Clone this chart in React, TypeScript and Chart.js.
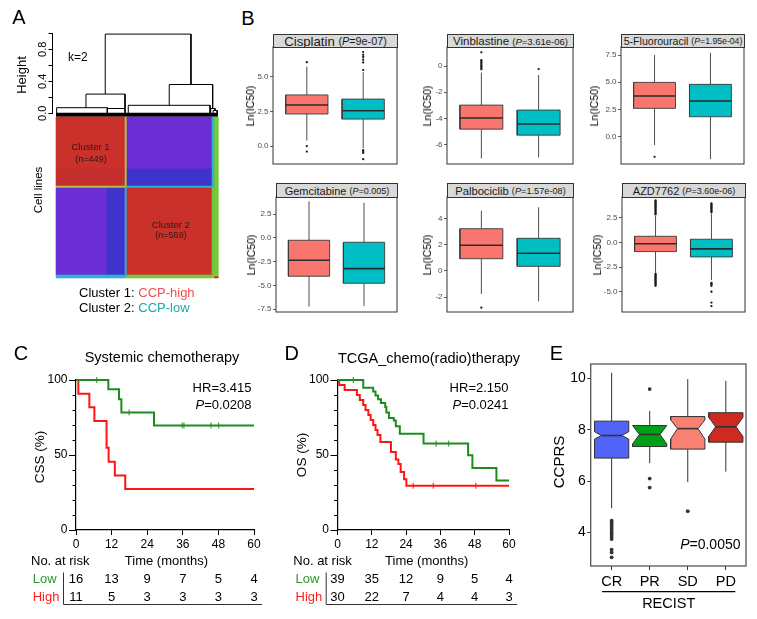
import React, { useEffect, useRef } from "react";
import { Chart, registerables } from "chart.js";

Chart.register(...registerables);

const FONT = '"Liberation Sans", Arial, Helvetica, sans-serif';

/* ================= Panel A : consensus clustering ================= */
// dendrogram merges: [xLeft, xRight, height, leftLegEnd, rightLegEnd]  (x = fraction of heatmap width)
const dendroMerges = [
  [0.304, 0.833, 0.99, 0.24, 0.36],
  [0.185, 0.426, 0.24, 0.07, 0.06],
  [0.004, 0.317, 0.07, 0.0, 0.0],
  [0.317, 0.426, 0.06, 0.0, 0.0],
  [0.699, 0.967, 0.36, 0.1, 0.06],
  [0.446, 0.951, 0.1, 0.0, 0.0],
  [0.955, 0.982, 0.06, 0.0, 0.035],
  [0.97, 0.995, 0.035, 0.0, 0.0],
];
const dendroLeafBand = -0.0175;
const dendroTicks = [0, 0.2, 0.4, 0.6, 0.8, 1.0];
const dendroLabelTicks = [0, 0.4, 0.8];
const dendroLabelText = ["0.0", "0.4", "0.8"];

const heatColBreaks = [0, 0.315, 0.426, 0.438, 0.963, 0.978, 1];
const heatRowBreaks = [0, 0.323, 0.429, 0.441, 0.981, 0.991, 1];
const hR = "rgb(201,49,42)";
const hR2 = "rgb(196,46,44)";
const hP = "rgb(106,46,212)";
const hB = "rgb(62,52,204)";
const hY = "rgb(186,192,62)";
const hG = "rgb(118,200,58)";
const hC = "rgb(44,176,212)";
const heatColors = [
  [hR, hR, hY, hP, hC, hG],
  [hR2, hR2, hY, hB, hC, hG],
  [hY, hY, hG, hC, hC, hG],
  [hP, hB, hC, hR, hG, hG],
  [hC, hC, hC, hG, hG, hY],
  [hC, hC, hG, hG, hY, hR],
];

/* ================= Panel B : drug sensitivity ================= */
const groupColors = ["#F8766D", "#00BFC4"];
const drugNames = ["Cisplatin", "Vinblastine", "5-Fluorouracil", "Gemcitabine", "Palbociclib", "AZD7762"];
const drugPValues = ["9e-07", "3.61e-06", "1.95e-04", "0.005", "1.57e-08", "3.60e-06"];
// [lowerWhisker, Q1, median, Q3, upperWhisker] for CCP-high (red) and CCP-low (teal)
const cisplatinBoxes = [[0.4, 2.32, 2.97, 3.7, 5.75], [-0.15, 1.95, 2.55, 3.4, 5.35]];
const cisplatinOutliers = [[6.07, 0.0, -0.4], [5.5, 6.05, 6.25, 6.45, 6.6, 6.8, -0.3, -0.4, -0.5, -0.95]];
const vinblastineBoxes = [[-7.07, -4.83, -3.98, -2.99, -0.5], [-7.0, -5.29, -4.44, -3.37, -0.69]];
const vinblastineOutliers = [[1.05, 0.45, 0.35, 0.25, 0.15, 0.05, -0.05, -0.15, -0.25], [-0.23]];
const fluorouracilBoxes = [[-0.76, 2.61, 3.74, 4.99, 7.5], [-2.05, 1.84, 3.28, 4.81, 7.71]];
const fluorouracilOutliers = [[-1.84], []];
const gemcitabineBoxes = [[-7.23, -4.04, -2.36, -0.26, 3.83], [-7.16, -4.78, -3.24, -0.47, 3.69]];
const gemcitabineOutliers = [[], []];
const palbociclibBoxes = [[-1.75, 0.93, 1.95, 3.21, 4.58], [-2.3, 0.35, 1.34, 2.48, 4.84]];
const palbociclibOutliers = [[-2.79], []];
const azdBoxes = [[-3.08, -0.93, -0.13, 0.62, 2.72], [-3.8, -1.47, -0.66, 0.32, 2.92]];
const azdOutliers = [
  [2.85, 2.95, 3.05, 3.15, 3.25, 3.35, 3.45, 3.55, 3.65, 3.75, 3.85, 3.95, 4.05, 4.15, 4.25,
   -3.2, -3.3, -3.4, -3.5, -3.6, -3.7, -3.8, -3.9, -4.0, -4.1, -4.2, -4.3, -4.4],
  [3.05, 3.15, 3.25, 3.35, 3.45, 3.55, 3.65, 3.75, 3.85, 3.95, -4.1, -4.2, -4.3, -4.4, -5.0, -6.1, -6.45],
];
const cisplatinRange = [-1.3, 7.17];
const vinblastineRange = [-7.5, 1.46];
const fluorouracilRange = [-2.5, 8.24];
const gemcitabineRange = [-7.8, 4.29];
const palbociclibRange = [-3.12, 5.62];
const azdRange = [-7.05, 4.6];
const cisplatinTicks = [0, 2.5, 5];
const cisplatinTickLabels = ["0.0", "2.5", "5.0"];
const vinblastineTicks = [-6, -4, -2, 0];
const vinblastineTickLabels = ["-6", "-4", "-2", "0"];
const fluorouracilTicks = [0, 2.5, 5, 7.5];
const fluorouracilTickLabels = ["0.0", "2.5", "5.0", "7.5"];
const gemcitabineTicks = [-7.5, -5, -2.5, 0, 2.5];
const gemcitabineTickLabels = ["-7.5", "-5.0", "-2.5", "0.0", "2.5"];
const palbociclibTicks = [-2, 0, 2, 4];
const palbociclibTickLabels = ["-2", "0", "2", "4"];
const azdTicks = [-5, -2.5, 0, 2.5];
const azdTickLabels = ["-5.0", "-2.5", "0.0", "2.5"];

/* ================= Panels C & D : Kaplan-Meier ================= */
const kmTimeTicks = [0, 12, 24, 36, 48, 60];
const kmSurvTicks = [0, 50, 100];
const kmMinorTicks = [10, 20, 30, 40, 60, 70, 80, 90];
const cLowCurve = [[0, 100], [10.9, 93.8], [14.5, 87.1], [15.3, 78.4], [26.3, 69.7], [60, 69.7]];
const cLowCensor = [[7, 100], [17.9, 78.4], [35.8, 69.7], [36.4, 69.7], [45.5, 69.7], [48.1, 69.7]];
const cHighCurve = [[0, 100], [0.8, 90.9], [4.5, 81.8], [6.2, 72.7], [10.3, 54.9], [11.0, 45.5], [13.1, 36.4], [16.6, 27.3], [60, 27.3]];
const cHighCensor = [];
const cLowRisk = [16, 13, 9, 7, 5, 4];
const cHighRisk = [11, 5, 3, 3, 3, 3];
const dLowCurve = [[0, 100], [9.0, 94.9], [12.5, 92.3], [13.3, 89.7], [14.2, 87.2], [15.2, 84.6], [16.7, 82.0], [17.1, 78.3], [18.0, 74.6], [19.7, 73.0], [20.4, 69.2], [21.8, 64.1], [30.1, 57.6], [45.7, 49.8], [47.2, 41.3], [55.6, 33.0], [60, 33.0]];
const dLowCensor = [[5.5, 100], [34.5, 57.6], [38.9, 57.6]];
const dHighCurve = [[0, 100], [0.6, 96.7], [2.5, 93.3], [6.8, 90.0], [7.8, 86.7], [9.0, 83.3], [9.8, 80.0], [10.8, 76.7], [11.6, 73.3], [12.5, 70.0], [13.3, 66.7], [14.0, 63.3], [15.0, 58.7], [18.7, 52.0], [20.4, 47.0], [21.3, 44.0], [22.1, 38.6], [23.3, 33.8], [24.1, 29.5], [60, 29.5]];
const dHighCensor = [[26.5, 29.5], [33.5, 29.5], [48.4, 29.5]];
const dLowRisk = [39, 35, 12, 9, 5, 4];
const dHighRisk = [30, 22, 7, 4, 4, 3];
const kmLowColor = "#1E8B1E";
const kmHighColor = "#FF1414";

/* ================= Panel E : CCPRS by RECIST ================= */
const eCategories = ["CR", "PR", "SD", "PD"];
const eBoxes = [
  [4.94, 6.9, 7.78, 8.34, 10.23],
  [6.7, 7.35, 7.82, 8.17, 8.74],
  [5.96, 7.25, 8.05, 8.52, 9.98],
  [6.37, 7.52, 8.12, 8.67, 9.91],
];
const eNotches = [[7.64, 7.93], [7.45, 8.17], [7.64, 8.39], [7.74, 8.49]];
const eOutliers = [
  [4.46, 4.38, 4.3, 4.22, 4.14, 4.06, 3.98, 3.9, 3.82, 3.74, 3.33, 3.22, 3.03],
  [9.59, 6.1, 5.75],
  [4.83],
  [],
];
const eColors = ["#5064FA", "#00A014", "#FA8072", "#CD2A20"];
const eTicks = [4, 6, 8, 10];
const eRange = [2.69, 10.57];

/* ================= helpers ================= */
function poly(points, fill, stroke, width = 1, extra = {}) {
  return {
    type: "line",
    data: points.map(([x, y]) => ({ x, y })),
    borderColor: stroke || "rgba(0,0,0,0)",
    borderWidth: stroke ? width : 0,
    backgroundColor: fill || "rgba(0,0,0,0)",
    fill: fill ? "shape" : false,
    pointRadius: 0,
    pointHoverRadius: 0,
    tension: 0,
    spanGaps: false,
    clip: false,
    borderCapStyle: "butt",
    borderJoinStyle: "miter",
    ...extra,
  };
}

function dots(points, color, r, extra = {}) {
  return {
    type: "line",
    data: points.map(([x, y]) => ({ x, y })),
    showLine: false,
    pointRadius: r,
    pointHoverRadius: r,
    pointBackgroundColor: color,
    pointBorderColor: color,
    pointBorderWidth: 0,
    clip: false,
    ...extra,
  };
}

function boxLayers(x, s, fillColor, hw, o) {
  const [lo, q1, med, q3, hi] = s;
  const layers = [];
  layers.push(poly([[x, lo], [x, q1], [x, null], [x, q3], [x, hi]], null, o.line, o.whiskerW));
  let pts;
  let mhw = hw;
  if (o.notch) {
    const [nl, nh] = o.notch;
    const ix = hw * (1 - o.inset);
    mhw = ix;
    pts = [[x - hw, q1], [x + hw, q1], [x + hw, nl], [x + ix, med], [x + hw, nh], [x + hw, q3], [x - hw, q3], [x - hw, nh], [x - ix, med], [x - hw, nl], [x - hw, q1]];
  } else {
    pts = [[x - hw, q1], [x + hw, q1], [x + hw, q3], [x - hw, q3], [x - hw, q1]];
  }
  layers.push(poly(pts, fillColor, o.line, o.boxW));
  layers.push(poly([[x - mhw, med], [x + mhw, med]], null, o.median, o.medianW));
  if (o.outliers && o.outliers.length) layers.push(dots(o.outliers.map((v) => [x, v]), o.pointColor, o.pointR));
  return layers;
}

function fixedTicks(values) {
  return (scale) => {
    scale.ticks = values.map((v) => ({ value: v }));
  };
}

function baseOptions(padding, pluginOpts = {}) {
  return {
    animation: false,
    responsive: false,
    maintainAspectRatio: false,
    events: [],
    layout: { padding },
    plugins: { legend: { display: false }, tooltip: { enabled: false }, ...pluginOpts },
  };
}

const framePlugin = {
  id: "frame",
  afterDatasetsDraw(chart, _a, o) {
    if (!o || !o.color) return;
    const { left, top, right, bottom } = chart.chartArea;
    const ctx = chart.ctx;
    ctx.save();
    ctx.strokeStyle = o.color;
    ctx.lineWidth = o.width || 1;
    ctx.strokeRect(left, top, right - left, bottom - top);
    ctx.restore();
  },
};

function rotatedText(ctx, text, x, y, size) {
  ctx.save();
  ctx.translate(x, y);
  ctx.rotate(-Math.PI / 2);
  ctx.font = `${size}px ${FONT}`;
  ctx.textAlign = "center";
  ctx.textBaseline = "middle";
  ctx.fillText(text, 0, 0);
  ctx.restore();
}

const dendroLabelPlugin = {
  id: "dendroLabels",
  afterDraw(chart) {
    const ctx = chart.ctx;
    const ys = chart.scales.y;
    ctx.save();
    ctx.fillStyle = "#000";
    dendroLabelTicks.forEach((v, i) => {
      rotatedText(ctx, dendroLabelText[i], chart.chartArea.left - 9.5, ys.getPixelForValue(v), 11);
    });
    ctx.restore();
  },
};

function drawPText(ctx, xRight, y, value, size) {
  ctx.font = `italic ${size}px ${FONT}`;
  const wP = ctx.measureText("P").width;
  ctx.font = `${size}px ${FONT}`;
  const rest = "=" + value;
  const wR = ctx.measureText(rest).width;
  const x0 = xRight - wP - wR;
  ctx.textAlign = "left";
  ctx.font = `italic ${size}px ${FONT}`;
  ctx.fillText("P", x0, y);
  ctx.font = `${size}px ${FONT}`;
  ctx.fillText(rest, x0 + wP, y);
}

const kmPlugin = {
  id: "kmExtras",
  afterDraw(chart, _a, o) {
    const ctx = chart.ctx;
    const xs = chart.scales.x;
    const ys = chart.scales.y;
    const L = chart.chartArea.left;
    const X = (v) => v - o.ox;
    const Y = (v) => v - o.oy;
    ctx.save();
    ctx.strokeStyle = "#000";
    ctx.lineWidth = 1;
    for (const v of kmMinorTicks) {
      const py = Math.round(ys.getPixelForValue(v)) + 0.5;
      ctx.beginPath();
      ctx.moveTo(L - 3.5, py);
      ctx.lineTo(L, py);
      ctx.stroke();
    }
    ctx.fillStyle = "#000";
    rotatedText(ctx, o.yTitle, X(o.yTitleX), Y(o.yTitleY), 13.5);
    ctx.textBaseline = "middle";
    ctx.font = `13px ${FONT}`;
    ctx.textAlign = "right";
    ctx.fillText(o.hr, X(o.hrRight), Y(o.hrY));
    drawPText(ctx, X(o.hrRight), Y(o.pY), o.p, 13);
    // risk table
    ctx.textAlign = "left";
    ctx.font = `13px ${FONT}`;
    ctx.fillText("No. at risk", X(o.headerX), Y(o.headerY));
    ctx.textAlign = "center";
    ctx.fillText("Time (months)", X(o.timeX), Y(o.headerY));
    o.rows.forEach((row, r) => {
      ctx.textAlign = "left";
      ctx.fillStyle = row.color;
      ctx.fillText(row.label, X(o.labelX), Y(o.rowY[r]));
      ctx.fillStyle = "#000";
      ctx.textAlign = "center";
      row.values.forEach((n, i) => {
        ctx.fillText(String(n), xs.getPixelForValue(kmTimeTicks[i]), Y(o.rowY[r]));
      });
    });
    ctx.strokeStyle = "#333";
    ctx.lineWidth = 1;
    ctx.beginPath();
    ctx.moveTo(X(o.sepX) + 0.5, Y(o.sepTop));
    ctx.lineTo(X(o.sepX) + 0.5, Y(o.sepBottom));
    ctx.lineTo(X(o.lineEnd), Y(o.sepBottom));
    ctx.stroke();
    ctx.restore();
  },
};

const ePlugin = {
  id: "eExtras",
  afterDraw(chart, _a, o) {
    const ctx = chart.ctx;
    const xs = chart.scales.x;
    const X = (v) => v - o.ox;
    const Y = (v) => v - o.oy;
    ctx.save();
    ctx.fillStyle = "#000";
    ctx.textBaseline = "middle";
    drawPText(ctx, X(740.5), Y(545), "0.0050", 14);
    rotatedText(ctx, "CCPRS", X(560), Y(462), 15);
    ctx.strokeStyle = "#000";
    ctx.lineWidth = 1.2;
    ctx.beginPath();
    ctx.moveTo(xs.getPixelForValue(0.75), Y(591.7));
    ctx.lineTo(xs.getPixelForValue(4.25), Y(591.7));
    ctx.stroke();
    ctx.font = `14.5px ${FONT}`;
    ctx.textAlign = "center";
    ctx.textBaseline = "middle";
    ctx.fillText("RECIST", xs.getPixelForValue(2.5), Y(604));
    ctx.restore();
  },
};

/* ================= chart configs ================= */
function dendroConfig() {
  const layers = [];
  for (const [xl, xr, h, ll, lr] of dendroMerges) {
    layers.push(poly([[xl, ll], [xl, h], [xr, h], [xr, lr]], null, "#000", 1));
  }
  layers.push(poly([[0, dendroLeafBand], [1, dendroLeafBand]], null, "#000", 4));
  return {
    type: "line",
    data: { datasets: layers.reverse() },
    options: {
      ...baseOptions({ left: 0, top: 13.3, right: 12, bottom: 11.7 }),
      scales: {
        x: { type: "linear", display: false, min: -0.0216, max: 1 },
        y: {
          type: "linear", min: 0, max: 1,
          afterBuildTicks: fixedTicks(dendroTicks),
          ticks: { display: false },
          grid: { drawOnChartArea: false, tickLength: 4, color: "#000", lineWidth: 1 },
          border: { display: true, color: "#000", width: 1 },
          afterFit: (s) => { s.width = 52.5; },
        },
      },
    },
    plugins: [dendroLabelPlugin],
  };
}

function heatConfig() {
  const layers = [];
  for (let r = 0; r < heatRowBreaks.length - 1; r++) {
    for (let c = 0; c < heatColBreaks.length - 1; c++) {
      const x0 = heatColBreaks[c], x1 = heatColBreaks[c + 1];
      const y0 = heatRowBreaks[r], y1 = heatRowBreaks[r + 1];
      const col = heatColors[r][c];
      layers.push(poly([[x0, y0], [x1, y0], [x1, y1], [x0, y1], [x0, y0]], col, col, 0.6));
    }
  }
  return {
    type: "line",
    data: { datasets: layers.reverse() },
    options: {
      ...baseOptions({ left: 6, top: 2, right: 7, bottom: 7 }),
      scales: {
        x: { type: "linear", display: false, min: 0, max: 1 },
        y: { type: "linear", display: false, min: 0, max: 1, reverse: true },
      },
    },
  };
}

function facetConfig(f) {
  const layers = [];
  f.boxes.forEach((s, i) => {
    layers.push(...boxLayers(i + 1, s, groupColors[i], 0.375, {
      line: "#3A3A3A", whiskerW: 0.9, boxW: 0.9, median: "#2A2A2A", medianW: 1.6,
      outliers: f.outliers[i], pointColor: "#1A1A1A", pointR: 1.15,
    }));
  });
  return {
    type: "line",
    data: { datasets: layers.reverse() },
    options: {
      ...baseOptions({ left: 0, top: 10, right: 3, bottom: 10 }, { frame: { color: "#333", width: 1 } }),
      scales: {
        x: { type: "linear", display: false, min: 0.4, max: 2.6 },
        y: {
          type: "linear", min: f.range[0], max: f.range[1],
          afterBuildTicks: fixedTicks(f.ticks),
          ticks: {
            font: { family: FONT, size: 8 }, color: "#4D4D4D", padding: 1.5,
            callback: (_v, i) => f.tickLabels[i],
          },
          grid: { drawOnChartArea: false, tickLength: 3, color: "#333", lineWidth: 0.8 },
          border: { display: false },
          afterFit: (s) => { s.width = 34; },
        },
      },
    },
    plugins: [framePlugin],
  };
}

function kmConfig(k) {
  const layers = [];
  layers.push(poly(k.highCurve, null, kmHighColor, 2, { stepped: true }));
  layers.push(poly(k.lowCurve, null, kmLowColor, 2, { stepped: true }));
  if (k.highCensor.length) layers.push(dots(k.highCensor, kmHighColor, 3, { pointStyle: "line", rotation: 90, pointBorderColor: kmHighColor, pointBorderWidth: 1 }));
  if (k.lowCensor.length) layers.push(dots(k.lowCensor, kmLowColor, 3, { pointStyle: "line", rotation: 90, pointBorderColor: kmLowColor, pointBorderWidth: 1 }));
  return {
    type: "line",
    data: { datasets: layers.reverse() },
    options: {
      ...baseOptions(k.padding, { kmExtras: k.extras }),
      scales: {
        x: {
          type: "linear", min: 0, max: 60,
          afterBuildTicks: fixedTicks(kmTimeTicks),
          ticks: { font: { family: FONT, size: 12 }, color: "#000", padding: 2, maxRotation: 0, callback: (v) => String(v) },
          grid: { drawOnChartArea: false, tickLength: 5, color: "#000", lineWidth: 1 },
          border: { display: true, color: "#000", width: 1.2 },
          afterFit: (s) => { s.height = 25; },
        },
        y: {
          type: "linear", min: 0, max: 100,
          afterBuildTicks: fixedTicks(kmSurvTicks),
          ticks: { font: { family: FONT, size: 12 }, color: "#000", padding: 1.5, callback: (v) => String(v) },
          grid: { drawOnChartArea: false, tickLength: 7, color: "#000", lineWidth: 1 },
          border: { display: true, color: "#000", width: 1.2 },
          afterFit: (s) => { s.width = k.yWidth; },
        },
      },
    },
    plugins: [kmPlugin],
  };
}

function eConfig() {
  const layers = [];
  eBoxes.forEach((s, i) => {
    layers.push(...boxLayers(i + 1, s, eColors[i], 0.45, {
      line: "#333", whiskerW: 1, boxW: 1, median: "#333", medianW: 1.6,
      notch: eNotches[i], inset: 0.4,
      outliers: eOutliers[i], pointColor: "#333", pointR: 1.9,
    }));
  });
  return {
    type: "line",
    data: { datasets: layers.reverse() },
    options: {
      ...baseOptions({ left: 0, top: 34, right: 11, bottom: 31 }, { frame: { color: "#555", width: 1.3 }, eExtras: { ox: 520, oy: 330 } }),
      scales: {
        x: {
          type: "linear", min: 0.45, max: 4.53,
          afterBuildTicks: fixedTicks([1, 2, 3, 4]),
          ticks: { font: { family: FONT, size: 14.5 }, color: "#000", padding: 3, maxRotation: 0, callback: (_v, i) => eCategories[i] },
          grid: { drawOnChartArea: false, tickLength: 4, color: "#333", lineWidth: 1 },
          border: { display: false },
          afterFit: (s) => { s.height = 22; },
        },
        y: {
          type: "linear", min: eRange[0], max: eRange[1],
          afterBuildTicks: fixedTicks(eTicks),
          ticks: { font: { family: FONT, size: 14 }, color: "#000", padding: 1.5, callback: (v) => String(v) },
          grid: { drawOnChartArea: false, tickLength: 3.5, color: "#333", lineWidth: 1 },
          border: { display: false },
          afterFit: (s) => { s.width = 70.7; },
        },
      },
    },
    plugins: [framePlugin, ePlugin],
  };
}

/* ================= components ================= */
function ChartBox({ x, y, w, h, make }) {
  const ref = useRef(null);
  useEffect(() => {
    const chart = new Chart(ref.current, make());
    return () => chart.destroy();
  }, []);
  return <canvas ref={ref} width={w} height={h} style={{ position: "absolute", left: x, top: y, width: w, height: h }} />;
}

function T({ x, y, s, c = "#000", rot = 0, align = "center", children, style = {} }) {
  const tx = align === "center" ? "-50%" : align === "left" ? "0%" : "-100%";
  return (
    <div
      style={{
        position: "absolute", left: x, top: y, fontSize: s, fontFamily: FONT, color: c,
        whiteSpace: "nowrap", lineHeight: "normal",
        transform: `translate(${tx},-50%) rotate(${rot}deg)`, ...style,
      }}
    >
      {children}
    </div>
  );
}

const facets = [
  { i: 0, boxes: cisplatinBoxes, outliers: cisplatinOutliers, range: cisplatinRange, ticks: cisplatinTicks, tickLabels: cisplatinTickLabels, rect: [273, 47, 397, 164], strip: 34, titleX: 250, fs: [13.2, 10.8] },
  { i: 1, boxes: vinblastineBoxes, outliers: vinblastineOutliers, range: vinblastineRange, ticks: vinblastineTicks, tickLabels: vinblastineTickLabels, rect: [447, 47, 573, 164], strip: 34, titleX: 427, fs: [11.5, 9.5] },
  { i: 2, boxes: fluorouracilBoxes, outliers: fluorouracilOutliers, range: fluorouracilRange, ticks: fluorouracilTicks, tickLabels: fluorouracilTickLabels, rect: [621, 47, 744, 164], strip: 34, titleX: 594, fs: [10.6, 8.7] },
  { i: 3, boxes: gemcitabineBoxes, outliers: gemcitabineOutliers, range: gemcitabineRange, ticks: gemcitabineTicks, tickLabels: gemcitabineTickLabels, rect: [276, 197, 397, 312], strip: 183, titleX: 251, fs: [11, 9] },
  { i: 4, boxes: palbociclibBoxes, outliers: palbociclibOutliers, range: palbociclibRange, ticks: palbociclibTicks, tickLabels: palbociclibTickLabels, rect: [447, 197, 573, 312], strip: 183, titleX: 427, fs: [11.2, 9.2] },
  { i: 5, boxes: azdBoxes, outliers: azdOutliers, range: azdRange, ticks: azdTicks, tickLabels: azdTickLabels, rect: [622, 197, 745, 312], strip: 183, titleX: 596.5, fs: [11, 9] },
];

const kmC = {
  lowCurve: cLowCurve, highCurve: cHighCurve, lowCensor: cLowCensor, highCensor: cHighCensor,
  padding: { left: 0, top: 50, right: 14, bottom: 64 }, yWidth: 76,
  extras: {
    ox: 0, oy: 330, hr: "HR=3.415", p: "0.0208", hrRight: 251.5, hrY: 388.5, pY: 405.5,
    yTitle: "CSS (%)", yTitleX: 40, yTitleY: 457,
    headerX: 31, headerY: 561.5, timeX: 166.5, labelX: 32.7, rowY: [579.5, 597],
    sepX: 63, sepTop: 572.5, sepBottom: 604.5, lineEnd: 262,
    rows: [{ label: "Low", color: "#2E962E", values: cLowRisk }, { label: "High", color: "#FF1E1E", values: cHighRisk }],
  },
};
const kmD = {
  lowCurve: dLowCurve, highCurve: dHighCurve, lowCensor: dLowCensor, highCensor: dHighCensor,
  padding: { left: 0, top: 50, right: 11, bottom: 64 }, yWidth: 67.5,
  extras: {
    ox: 270, oy: 330, hr: "HR=2.150", p: "0.0241", hrRight: 508.5, hrY: 388.5, pY: 405.5,
    yTitle: "OS (%)", yTitleX: 302.5, yTitleY: 455,
    headerX: 293.3, headerY: 561.5, timeX: 426.7, labelX: 295.5, rowY: [579.5, 597],
    sepX: 325.7, sepTop: 572.5, sepBottom: 604.5, lineEnd: 517,
    rows: [{ label: "Low", color: "#2E962E", values: dLowRisk }, { label: "High", color: "#FF1E1E", values: dHighRisk }],
  },
};

export default function App() {
  return (
    <div style={{ position: "fixed", left: 0, top: 0, width: 757, height: 619, background: "#fff", overflow: "hidden" }}>
      {/* Panel A */}
      <ChartBox x={0} y={20} w={230} h={105} make={dendroConfig} />
      <ChartBox x={50} y={115} w={175} h={170} make={heatConfig} />
      <T x={19} y={17} s={20}>A</T>
      <T x={21} y={75} s={13} rot={-90}>Height</T>
      <T x={77.8} y={56.7} s={12}>k=2</T>
      <T x={38} y={190} s={11.5} rot={-90}>Cell lines</T>
      <T x={90.5} y={146.3} s={9.5} c="#2A1A1A">Cluster 1</T>
      <T x={91} y={158.8} s={9} c="#2A1A1A">(n=449)</T>
      <T x={170.8} y={223.7} s={9.5} c="#2A1A1A">Cluster 2</T>
      <T x={171} y={235} s={9} c="#2A1A1A">(n=569)</T>
      <T x={79} y={292.3} s={13} align="left">Cluster 1: <span style={{ color: "#F05050" }}>CCP-high</span></T>
      <T x={79} y={307.3} s={13} align="left">Cluster 2: <span style={{ color: "#1AAAAA" }}>CCP-low</span></T>

      {/* Panel B */}
      <T x={248} y={18} s={20}>B</T>
      {facets.map((f) => {
        const [l, t, r, b] = f.rect;
        return (
          <React.Fragment key={f.i}>
            <ChartBox x={l - 34} y={t - 10} w={r - l + 37} h={b - t + 20} make={() => facetConfig(f)} />
            <div
              style={{
                position: "absolute", left: l, top: f.strip, width: r - l + 1, height: t - f.strip + 1,
                boxSizing: "border-box", border: "1px solid #333", background: "#D9D9D9",
                display: "flex", alignItems: "center", justifyContent: "center",
                fontFamily: FONT, fontSize: f.fs[0], color: "#1A1A1A", whiteSpace: "nowrap", overflow: "hidden",
              }}
            >
              {drugNames[f.i]}&nbsp;<span style={{ fontSize: f.fs[1] }}>(<i>P</i>={drugPValues[f.i]})</span>
            </div>
            <T x={f.titleX} y={(t + b) / 2} s={10.5} rot={-90}>Ln(IC50)</T>
          </React.Fragment>
        );
      })}

      {/* Panel C */}
      <ChartBox x={0} y={330} w={268} h={289} make={() => kmConfig(kmC)} />
      <T x={21} y={352.5} s={20}>C</T>
      <T x={162} y={357} s={14.5}>Systemic chemotherapy</T>

      {/* Panel D */}
      <ChartBox x={270} y={330} w={250} h={289} make={() => kmConfig(kmD)} />
      <T x={291.7} y={352.8} s={20}>D</T>
      <T x={429} y={357.5} s={14.5}>TCGA_chemo(radio)therapy</T>

      {/* Panel E */}
      <ChartBox x={520} y={330} w={237} h={289} make={eConfig} />
      <T x={556.3} y={352.8} s={20}>E</T>
    </div>
  );
}
